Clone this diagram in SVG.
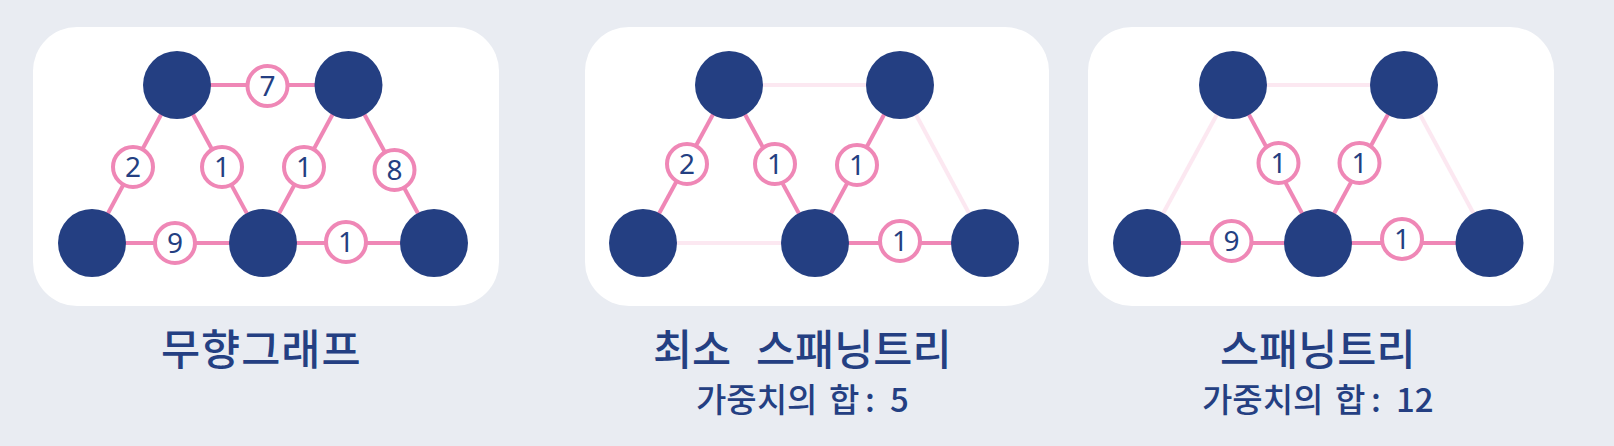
<svg xmlns="http://www.w3.org/2000/svg" width="1614" height="446" viewBox="0 0 1614 446">
<style>
.card{fill:#ffffff}
.node{fill:#243F82}
.e{stroke:#EF87B6;stroke-width:4;fill:none}
.f{stroke:#FCE8F1;stroke-width:4;fill:none}
.w{fill:#ffffff;stroke:#EF87B6;stroke-width:4}
.wt{font-family:"Noto Sans","Open Sans",sans-serif;font-size:28px;fill:#243F82;text-anchor:middle}
.title{font-family:"Noto Sans CJK KR","Noto Sans",sans-serif;font-size:42.5px;font-weight:500;fill:#243F82}
.sub{font-family:"Noto Sans CJK KR","Noto Sans",sans-serif;font-size:33px;font-weight:500;fill:#243F82}
</style>
<rect x="0" y="0" width="1614" height="446" fill="#E9ECF2"/>
<rect class="card" x="33" y="27" width="466" height="279" rx="44"/>
<rect class="card" x="585" y="27" width="464" height="279" rx="44"/>
<rect class="card" x="1088" y="27" width="466" height="279" rx="44"/>
<g id="connectors">
<line class="e" x1="177" y1="85" x2="348.5" y2="85"/>
<line class="e" x1="177" y1="85" x2="92" y2="243"/>
<line class="e" x1="177" y1="85" x2="263" y2="243"/>
<line class="e" x1="348.5" y1="85" x2="263" y2="243"/>
<line class="e" x1="348.5" y1="85" x2="434" y2="243"/>
<line class="e" x1="92" y1="243" x2="263" y2="243"/>
<line class="e" x1="263" y1="243" x2="434" y2="243"/>
<line class="f" x1="729" y1="85" x2="900" y2="85"/>
<line class="e" x1="729" y1="85" x2="643" y2="243"/>
<line class="e" x1="729" y1="85" x2="815" y2="243"/>
<line class="e" x1="900" y1="85" x2="815" y2="243"/>
<line class="f" x1="900" y1="85" x2="985" y2="243"/>
<line class="f" x1="643" y1="243" x2="815" y2="243"/>
<line class="e" x1="815" y1="243" x2="985" y2="243"/>
<line class="f" x1="1233" y1="85" x2="1404" y2="85"/>
<line class="f" x1="1233" y1="85" x2="1147" y2="243"/>
<line class="e" x1="1233" y1="85" x2="1318" y2="243"/>
<line class="e" x1="1404" y1="85" x2="1318" y2="243"/>
<line class="f" x1="1404" y1="85" x2="1489.5" y2="243"/>
<line class="e" x1="1147" y1="243" x2="1318" y2="243"/>
<line class="e" x1="1318" y1="243" x2="1489.5" y2="243"/>
</g>
<g id="weights1">
<circle class="w" cx="267.5" cy="86" r="20"/><text class="wt" x="267.5" y="96">7</text>
<circle class="w" cx="133" cy="167" r="20"/><text class="wt" x="133" y="177">2</text>
<circle class="w" cx="222" cy="167" r="20"/><text class="wt" x="222" y="177">1</text>
<circle class="w" cx="304" cy="167" r="20"/><text class="wt" x="304" y="177">1</text>
<circle class="w" cx="394.5" cy="170" r="20"/><text class="wt" x="394.5" y="180">8</text>
<circle class="w" cx="175" cy="243" r="20"/><text class="wt" x="175" y="253">9</text>
<circle class="w" cx="346" cy="242" r="20"/><text class="wt" x="346" y="252">1</text>
</g>
<g id="weights2">
<circle class="w" cx="687" cy="164" r="20"/><text class="wt" x="687" y="174">2</text>
<circle class="w" cx="775" cy="164" r="20"/><text class="wt" x="775" y="174">1</text>
<circle class="w" cx="857" cy="165" r="20"/><text class="wt" x="857" y="175">1</text>
<circle class="w" cx="900" cy="241" r="20"/><text class="wt" x="900" y="251">1</text>
</g>
<g id="weights3">
<circle class="w" cx="1278.5" cy="163" r="20"/><text class="wt" x="1278.5" y="173">1</text>
<circle class="w" cx="1359.5" cy="163" r="20"/><text class="wt" x="1359.5" y="173">1</text>
<circle class="w" cx="1231.5" cy="241" r="20"/><text class="wt" x="1231.5" y="251">9</text>
<circle class="w" cx="1402" cy="239" r="20"/><text class="wt" x="1402" y="249">1</text>
</g>
<g id="n1-a"><circle class="node" cx="177" cy="85" r="34"/></g>
<g id="n1-b"><circle class="node" cx="348.5" cy="85" r="34"/></g>
<g id="n1-c"><circle class="node" cx="92" cy="243" r="34"/></g>
<g id="n1-d"><circle class="node" cx="263" cy="243" r="34"/></g>
<g id="n1-e"><circle class="node" cx="434" cy="243" r="34"/></g>
<g id="n2-a"><circle class="node" cx="729" cy="85" r="34"/></g>
<g id="n2-b"><circle class="node" cx="900" cy="85" r="34"/></g>
<g id="n2-c"><circle class="node" cx="643" cy="243" r="34"/></g>
<g id="n2-d"><circle class="node" cx="815" cy="243" r="34"/></g>
<g id="n2-e"><circle class="node" cx="985" cy="243" r="34"/></g>
<g id="n3-a"><circle class="node" cx="1233" cy="85" r="34"/></g>
<g id="n3-b"><circle class="node" cx="1404" cy="85" r="34"/></g>
<g id="n3-c"><circle class="node" cx="1147" cy="243" r="34"/></g>
<g id="n3-d"><circle class="node" cx="1318" cy="243" r="34"/></g>
<g id="n3-e"><circle class="node" cx="1489.5" cy="243" r="34"/></g>
<g id="labels">
<text class="title" x="161" y="365" letter-spacing="1">무향그래프</text>
<text class="title" x="653" y="365">최소 <tspan x="756">스패닝트리</tspan></text>
<text class="sub" x="696" y="412">가중치의 <tspan x="829">합</tspan><tspan x="865">:</tspan> <tspan x="890">5</tspan></text>
<text class="title" x="1220" y="365">스패닝트리</text>
<text class="sub" x="1202" y="412">가중치의 <tspan x="1335">합</tspan><tspan x="1371">:</tspan> <tspan x="1396">12</tspan></text>
</g>
</svg>
